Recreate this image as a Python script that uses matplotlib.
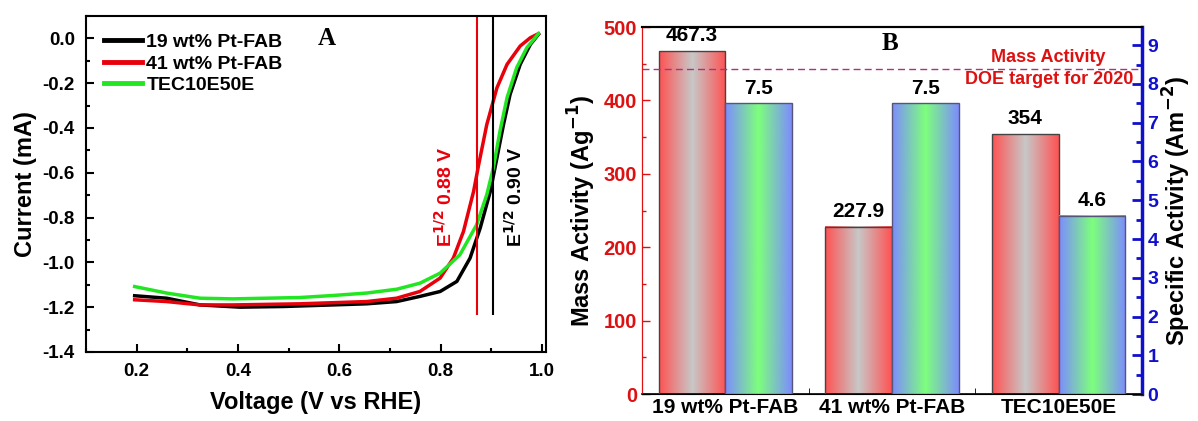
import numpy as np
import matplotlib.pyplot as plt
from matplotlib.colors import LinearSegmentedColormap
from matplotlib.ticker import MultipleLocator

plt.rcParams['font.family'] = ['Liberation Sans', 'DejaVu Sans']
plt.rcParams['font.weight'] = 'bold'
plt.rcParams['axes.labelweight'] = 'bold'
plt.rcParams['mathtext.default'] = 'bf'
plt.rcParams['axes.unicode_minus'] = False

# ── panel A: LSV curves ──
v_black = [0.196, 0.259, 0.325, 0.404, 0.49, 0.587, 0.654, 0.713, 0.759, 0.799,
           0.832, 0.858, 0.878, 0.898, 0.911, 0.924, 0.937, 0.957, 0.977, 0.993]
i_black = [-1.149, -1.16, -1.19, -1.2, -1.197, -1.19, -1.185, -1.175, -1.152, -1.130,
           -1.085, -0.981, -0.847, -0.683, -0.534, -0.385, -0.250, -0.116, -0.027, 0.018]

v_red = [0.196, 0.259, 0.325, 0.39, 0.522, 0.654, 0.713, 0.759, 0.799, 0.825,
         0.845, 0.865, 0.875, 0.891, 0.911, 0.931, 0.957, 0.977, 0.993]
i_red = [-1.167, -1.175, -1.19, -1.19, -1.185, -1.175, -1.16, -1.130, -1.070, -0.981,
         -0.862, -0.683, -0.564, -0.385, -0.221, -0.116, -0.034, 0.003, 0.021]

v_green = [0.196, 0.259, 0.325, 0.39, 0.522, 0.587, 0.654, 0.713, 0.759, 0.799,
           0.838, 0.871, 0.891, 0.904, 0.917, 0.931, 0.95, 0.97, 0.993]
i_green = [-1.108, -1.137, -1.16, -1.163, -1.157, -1.148, -1.137, -1.12, -1.093, -1.048,
           -0.966, -0.832, -0.698, -0.578, -0.415, -0.265, -0.131, -0.042, 0.021]

e_half_red = 0.871
e_half_black = 0.903

# ── panel B: activities ──
catalysts = ["19 wt% Pt-FAB", "41 wt% Pt-FAB", "TEC10E50E"]
mass_activity = [467.3, 227.9, 354]
specific_activity = [7.5, 7.5, 4.6]
mass_labels = ["467.3", "227.9", "354"]
spec_labels = ["7.5", "7.5", "4.6"]
doe_target = 443

fig = plt.figure(figsize=(11.98, 4.21), dpi=100)

# ── A ──
ax = fig.add_axes([0.0718, 0.164, 0.384, 0.798])
ax.plot(v_black, i_black, color="black", lw=2.5, label="19 wt% Pt-FAB")
ax.plot(v_red, i_red, color="#e8000b", lw=2.5, label="41 wt% Pt-FAB")
ax.plot(v_green, i_green, color="#22e622", lw=2.5, label="TEC10E50E")
ax.vlines(e_half_red, -1.235, 0.1, color="#e8000b", lw=1.5)
ax.vlines(e_half_black, -1.235, 0.1, color="black", lw=1.5)
ax.text(0.809, -0.707, r"E$^{1/2}$ 0.88 V", rotation=90, color="#e8000b",
        fontsize=14, fontweight="bold", ha="center", va="center")
ax.text(0.947, -0.707, r"E$^{1/2}$ 0.90 V", rotation=90, color="black",
        fontsize=14, fontweight="bold", ha="center", va="center")
ax.text(0.575, 0.0, "A", family="Liberation Serif", fontsize=18,
        fontweight="bold", ha="center", va="center")
ax.set_xlim(0.1, 1.008)
ax.set_ylim(-1.4, 0.1)
ax.xaxis.set_minor_locator(MultipleLocator(0.1))
ax.yaxis.set_major_locator(MultipleLocator(0.2))
ax.yaxis.set_minor_locator(MultipleLocator(0.1))
ax.set_xticks([0.2, 0.4, 0.6, 0.8, 1.0])
ax.tick_params(which="both", direction="in", labelsize=13.5, width=1.5)
ax.tick_params(which="major", length=6, pad=8)
ax.tick_params(which="minor", length=3)
for s in ax.spines.values():
    s.set_linewidth(1.5)
ax.set_xlabel("Voltage (V vs RHE)", fontsize=17, labelpad=8)
ax.set_ylabel("Current (mA)", fontsize=17, labelpad=4)
ax.legend(loc="upper left", frameon=False, fontsize=14, handlelength=2.0,
          handletextpad=0.2, labelspacing=0.2, borderaxespad=0.5)
for lh in ax.get_legend().get_lines():
    lh.set_linewidth(3.5)

# ── B ──
bx = fig.add_axes([0.5359, 0.0641, 0.4174, 0.8717])
bx2 = bx.twinx()
x = np.arange(1, len(catalysts) + 1)
w = 0.4
red_cmap = LinearSegmentedColormap.from_list("rg", ["#ff5252", "#c8c8c8", "#ff5252"])
blue_cmap = LinearSegmentedColormap.from_list("bg", ["#7d8cff", "#7dff7d", "#7d8cff"])
grad = np.linspace(0, 1, 256).reshape(1, -1)

bars1 = bx.bar(x - w / 2, mass_activity, w, facecolor="none", edgecolor="#444444",
               lw=1, zorder=3)
bars2 = bx2.bar(x + w / 2, specific_activity, w, facecolor="none", edgecolor="#555577",
                lw=1, zorder=3)
for b in bars1:
    bx.imshow(grad, extent=[b.get_x(), b.get_x() + b.get_width(), 0, b.get_height()],
              aspect="auto", cmap=red_cmap, zorder=2)
for b in bars2:
    bx2.imshow(grad, extent=[b.get_x(), b.get_x() + b.get_width(), 0, b.get_height()],
               aspect="auto", cmap=blue_cmap, zorder=2)
for b, lab in zip(bars1, mass_labels):
    bx.text(b.get_x() + b.get_width() / 2, b.get_height() + 8, lab, ha="center",
            va="bottom", fontsize=15, fontweight="bold")
for b, lab in zip(bars2, spec_labels):
    bx2.text(b.get_x() + b.get_width() / 2, b.get_height() + 0.15, lab, ha="center",
             va="bottom", fontsize=15, fontweight="bold")

bx.axhline(doe_target, color="#b0307a", ls=(0, (5, 3)), lw=1, zorder=4)
bx.text(2.94, 459, "Mass Activity", color="#dd1111", fontsize=13,
        fontweight="bold", ha="center", va="center")
bx.text(2.94, 428, "DOE target for 2020", color="#dd1111", fontsize=13,
        fontweight="bold", ha="center", va="center")
bx.text(1.99, 478, "B", family="Liberation Serif", fontsize=18,
        fontweight="bold", ha="center", va="center")

bx.set_xlim(0.5, 3.5)
bx.set_ylim(0, 500)
bx2.set_ylim(0, 9.47)
bx.set_xticks(x)
bx.set_xticklabels(catalysts, fontsize=15)
bx.xaxis.set_minor_locator(MultipleLocator(0.5))
bx.yaxis.set_major_locator(MultipleLocator(100))
bx.yaxis.set_minor_locator(MultipleLocator(50))
bx2.yaxis.set_major_locator(MultipleLocator(1))
bx2.yaxis.set_minor_locator(MultipleLocator(0.5))

bx.tick_params(axis="x", which="both", direction="in", length=4, pad=3)
bx.tick_params(axis="y", which="both", direction="in", colors="#dd1111",
               labelsize=14.5, width=1)
bx.tick_params(axis="y", which="major", length=6)
bx.tick_params(axis="y", which="minor", length=3)
bx2.tick_params(axis="y", which="both", direction="in", colors="#1010cc",
                labelsize=14, width=2)
bx2.tick_params(axis="y", which="major", length=7, pad=4)
bx2.tick_params(axis="y", which="minor", length=4)
bx.spines["left"].set_color("#dd1111")
bx2.spines["left"].set_color("#dd1111")
bx.spines["top"].set_linewidth(1.5)
bx2.spines["top"].set_linewidth(1.5)
bx.spines["bottom"].set_linewidth(1.2)
bx2.spines["right"].set_color("#1010cc")
bx2.spines["right"].set_linewidth(2.5)
bx.set_ylabel(r"Mass Activity (Ag$^{-1}$)", fontsize=17, labelpad=4)
bx2.set_ylabel(r"Specific Activity (Am$^{-2}$)", fontsize=17, labelpad=2)

fig.savefig("out.png", dpi=100)
